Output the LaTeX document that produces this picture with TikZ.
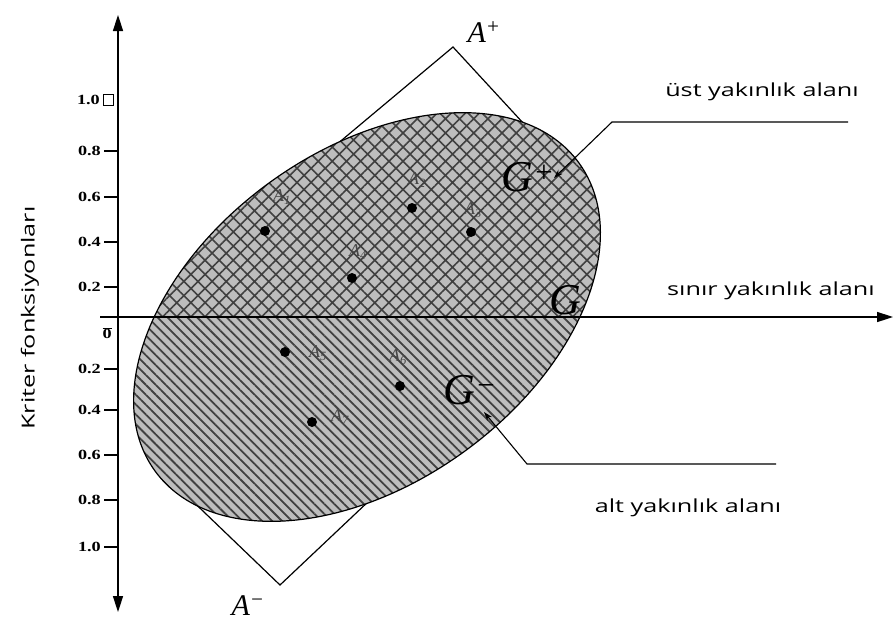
\documentclass[tikz,border=0pt]{standalone}
\usepackage{fontspec}
\setmainfont{Liberation Serif}
\newfontfamily\labelfont{Open Sans}[FakeStretch=1.4]
\newfontfamily\tickfont{Liberation Serif}[FakeStretch=1.3]
\usetikzlibrary{arrows.meta,patterns.meta}

\tikzset{
  dot/.style={circle,fill=black,inner sep=0pt,minimum size=10pt},
  ptlabel/.style={text=black!72,font=\fontsize{18}{18}\selectfont\itshape},
  ticklabel/.style={anchor=east,inner sep=1pt,font=\tickfont\bfseries\fontsize{14}{14}\selectfont},
  apexlabel/.style={font=\fontsize{30}{30}\selectfont\itshape},
  biglabel/.style={font=\fontsize{44}{44}\selectfont\itshape},
  note/.style={font=\labelfont\fontsize{18}{18}\selectfont},
  region/.style={rotate around={36:(367,317)}},
}

\begin{document}
\begin{tikzpicture}[x=1pt,y=-1pt,>={Triangle[length=16pt,width=10pt]}]
	\useasboundingbox (0,0) rectangle (893,635);
	% tilted rectangle, its side corners are hidden under the ellipse
	\coordinate (Aplus) at (453,47);
	\coordinate (Aminus) at (280,585);
	\draw[line width=1.2pt] (Aplus) -- (330,150) -- (250,320) -- (179,488) -- (Aminus) -- (389,482) -- (480,310) -- (548,150) -- cycle;
	% upper half
	\begin{scope}
		\clip (0,0) rectangle (893,317);
		\fill[black!26,region] (367,317) ellipse [x radius=262,y radius=166];
		\fill[region,pattern={Hatch[angle=45,distance=10pt,line width=1.6pt]},pattern color=black!75] (367,317) ellipse [x radius=262,y radius=166];
	\end{scope}
	% lower half
	\begin{scope}
		\clip (0,317) rectangle (893,635);
		\fill[black!26,region] (367,317) ellipse [x radius=262,y radius=166];
		\fill[region,pattern={Lines[angle=-45,distance=7pt,line width=1.8pt]},pattern color=black!75] (367,317) ellipse [x radius=262,y radius=166];
	\end{scope}
	\draw[line width=1.2pt,region] (367,317) ellipse [x radius=262,y radius=166];
	% axes
	\draw[<->,line width=1.5pt] (118,15) -- (118,612);
	\draw[->,line width=1.5pt] (100,317) -- (893,317);
	\foreach \y/\t in {151/0.8,197/0.6,242/0.4,287/0.2,369/0.2,410/0.4,455/0.6,500/0.8,547/1.0}{
		\draw[line width=1.2pt] (104,\y) -- (118,\y);
		\node[ticklabel] (t\y) at (102,\y) {\t};
	}
	\draw[line width=1pt] (103,94) rectangle (113,105);
	\node[ticklabel] (t100) at (101,100) {1.0};
	\node[ticklabel] (t0) at (113,333) {$\overline{\mbox{0}}$};
	\node[note,rotate=90] (krit) at (30,318) {Kriter fonksiyonları};
	% points
	\foreach \n/\px/\py/\lx/\ly in {1/265/231/282/197,2/412/208/417/180,3/471/232/473/210,4/352/278/358/252,5/285/352/318/353,6/400/386/398/357,7/312/422/340/417}{
		\node[dot] (a\n) at (\px,\py) {};
		\node[ptlabel] (la\n) at (\lx,\ly) {A\textsubscript{\n}};
	}
	% labels
	\node[apexlabel] (Ap) at (484,32) {A\textsuperscript{+}};
	\node[apexlabel] (Am) at (248,606) {A\textsuperscript{−}};
	\node[biglabel] (Gp) at (528,177) {G\textsuperscript{+}};
	\node[biglabel] (Gm) at (470,390) {G\textsuperscript{−}};
	\node[biglabel] (G0) at (565,300) {G};
	% leaders
	\coordinate (gptip) at (554,178);
	\coordinate (upbend) at (612,122);
	\coordinate (upend) at (848,122);
	\draw[line width=1.1pt,-{Stealth[length=9pt,width=6pt]}] (upend) -- (upbend) -- (gptip);
	\coordinate (gmtip) at (484,412);
	\coordinate (lowbend) at (527,464);
	\coordinate (lowend) at (776,464);
	\draw[line width=1.1pt,-{Stealth[length=9pt,width=6pt]}] (lowend) -- (lowbend) -- (gmtip);
	\node[note] (ust) at (762,92) {üst yakınlık alanı};
	\node[note] (sinir) at (771,291) {sınır yakınlık alanı};
	\node[note] (alt) at (688,508) {alt yakınlık alanı};
\end{tikzpicture}
\end{document}
